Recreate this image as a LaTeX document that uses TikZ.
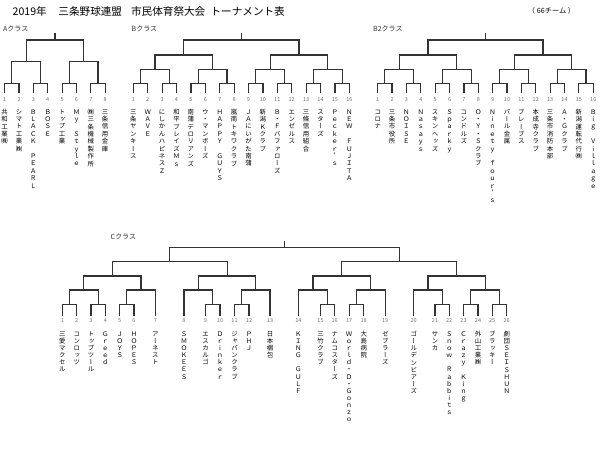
\documentclass[tikz,border=0pt]{standalone}
\usepackage{fontspec}
\setmainfont{Noto Sans CJK JP}
\newfontfamily\tatefont[RawFeature=+vert]{Noto Sans CJK JP}
\usetikzlibrary{calc}
\newlength\tatepitch
\setlength\tatepitch{7.4pt}
\makeatletter
\newcommand\tate[1]{\vbox{\tatefont\fontsize{6.4}{7.4}\selectfont\baselineskip=\tatepitch\lineskiplimit=-20pt\lineskip=0pt\relax
  \@tfor\tt@c:=#1\do{\hbox to 8pt{\hss\vrule height 5.2pt depth 1.4pt width 0pt\tt@c\hss}}}}
\makeatother
% leaf: id, x, number, name, leaf y, number y, name top y
\newcommand\leaf[7]{%
  \coordinate (#1) at (#2,#5);
  \node[num] (#1n) at (#2,#6) {#3};
  \node[team] (#1t) at (#2,#7) {\tate{#4}};}
\newcommand\la[4]{\leaf{#1}{#2}{#3}{#4}{93.3}{100}{108.7}}
\newcommand\lc[4]{\leaf{#1}{#2}{#3}{#4}{316}{320.7}{331}}
% match: name, child a, child b, level y
\newcommand\mt[4]{%
  \path let \p1=(#2),\p2=(#3) in coordinate (#1) at ({0.5*\x1+0.5*\x2},{-#4pt});
  \draw[br] (#2) |- (#1) -| (#3);}
\tikzset{
  br/.style={draw=black!80, line width=1.2pt},
  num/.style={font=\fontsize{5.5}{6}\selectfont, text=black!55, inner sep=0pt},
  team/.style={anchor=north, inner sep=0pt},
  cls/.style={anchor=west, inner sep=0pt, font=\fontsize{7}{8}\selectfont, text=black!80},
}
\begin{document}
\begin{tikzpicture}[x=1pt,y=-1pt]
\fill[white] (0,0) rectangle (600,452);
\useasboundingbox (0,0) rectangle (600,452);
\node[anchor=west,inner sep=0pt,font=\fontsize{10.6}{12}\selectfont] (title) at (12.5,11)
  {2019年\hspace{1.1em}三条野球連盟\hspace{0.85em}市民体育祭大会\hspace{0.5em}トーナメント表};
\node[inner sep=0pt,font=\fontsize{7.2}{8}\selectfont] (count) at (551.5,11) {（\hspace{0.25em}66チーム\hspace{0.25em}）};
\node[cls] (lA) at (3,29.3) {Aクラス};
\node[cls] (lB) at (131.5,29.3) {Bクラス};
\node[cls] (lB2) at (373,29.3) {B2クラス};
\node[cls] (lC) at (110.5,236.7) {Cクラス};
% ---- A class
\la{A1}{4.70}{1}{共和工業㈱}
\la{A2}{19.05}{2}{シマト工業㈱}
\la{A3}{33.40}{3}{ＢＬＡＣＫ　ＰＥＡＲＬ}
\la{A4}{47.75}{4}{ＢＯＳＥ}
\la{A5}{62.10}{5}{トップ工業}
\la{A6}{76.45}{6}{Ｍｙ　Ｓｔｙｌｅ}
\la{A7}{90.80}{7}{㈱三条機械製作所}
\la{A8}{105.15}{8}{三条信用金庫}
\mt{a12}{A1}{A2}{83.3}
\mt{a34}{A3}{A4}{83.3}
\mt{a56}{A5}{A6}{83.3}
\mt{a78}{A7}{A8}{83.3}
\mt{a14}{a12}{a34}{61.7}
\mt{a58}{a56}{a78}{61.7}
\mt{aF}{a14}{a58}{40}
\path (aF) ++(0,-6.7) coordinate (aW);
\draw[br] (aF) -- (aW);
% ---- B class
\la{B1}{133.3}{1}{三条ヤンキース}
\la{B2}{147.7}{2}{ＷＡＶＥ}
\la{B3}{162.1}{3}{にしかんハピネスＺ}
\la{B4}{176.5}{4}{和平ブレイズＭｓ}
\la{B5}{190.9}{5}{南蒲デロリアンズ}
\la{B6}{205.3}{6}{ウ・マンボーズ}
\la{B7}{219.7}{7}{ＨＡＰＰＹ　ＧＵＹＳ}
\la{B8}{234.1}{8}{嵐南トキワクラブ}
\la{B9}{248.5}{9}{ＪＡにいがた南蒲}
\la{B10}{262.9}{10}{新潟Ｋクラブ}
\la{B11}{277.3}{11}{Ｂ・Ｆバファローズ}
\la{B12}{291.7}{12}{エンゼルス}
\la{B13}{306.1}{13}{三條信用組合}
\la{B14}{320.5}{14}{スターズ}
\la{B15}{334.9}{15}{Ｐｅｃｋｅｒ＇ｓ}
\la{B16}{349.3}{16}{ＮＥＷ　ＦＵＪＩＴＡ}
\mt{b12}{B1}{B2}{83.3}
\mt{b34}{B3}{B4}{83.3}
\mt{b56}{B5}{B6}{83.3}
\mt{b78}{B7}{B8}{83.3}
\mt{b910}{B9}{B10}{83.3}
\mt{b1112}{B11}{B12}{83.3}
\mt{b1314}{B13}{B14}{83.3}
\mt{b1516}{B15}{B16}{83.3}
\mt{b14}{b12}{b34}{69.3}
\mt{b58}{b56}{b78}{69.3}
\mt{b912}{b910}{b1112}{69.3}
\mt{b1316}{b1314}{b1516}{69.3}
\mt{b18}{b14}{b58}{55}
\mt{b916}{b912}{b1316}{55}
\mt{bF}{b18}{b916}{40}
\path (bF) ++(0,-6.7) coordinate (bW);
\draw[br] (bF) -- (bW);
% ---- B2 class
\la{D1}{377.70}{1}{コロナ}
\la{D2}{392.07}{2}{三条市役所}
\la{D3}{406.44}{3}{ＮＯＩＳＥ}
\la{D4}{420.81}{4}{Ｎａｓａｙｓ}
\la{D5}{435.18}{5}{スキンヘッズ}
\la{D6}{449.55}{6}{Ｓｐａｒｋｙ}
\la{D7}{463.92}{7}{コンドルズ}
\la{D8}{478.29}{8}{Ｏ・Ｙ・Ｓクラブ}
\la{D9}{492.66}{9}{Ｎｉｎｅｔｙ　ｆｏｕｒ＇ｓ}
\la{D10}{507.03}{10}{パール金属}
\la{D11}{521.40}{11}{ブレーブス}
\la{D12}{535.77}{12}{本成寺クラブ}
\la{D13}{550.14}{13}{三条市消防本部}
\la{D14}{564.51}{14}{Ａ・Ｇクラブ}
\la{D15}{578.88}{15}{新潟運転代行㈱}
\la{D16}{593.25}{16}{Ｂｉｇ　Ｖｉｌｌａｇｅ}
\mt{d12}{D1}{D2}{83.3}
\mt{d34}{D3}{D4}{83.3}
\mt{d56}{D5}{D6}{83.3}
\mt{d78}{D7}{D8}{83.3}
\mt{d910}{D9}{D10}{83.3}
\mt{d1112}{D11}{D12}{83.3}
\mt{d1314}{D13}{D14}{83.3}
\mt{d1516}{D15}{D16}{83.3}
\mt{d14}{d12}{d34}{69.3}
\mt{d58}{d56}{d78}{69.3}
\mt{d912}{d910}{d1112}{69.3}
\mt{d1316}{d1314}{d1516}{69.3}
\mt{d18}{d14}{d58}{55}
\mt{d916}{d912}{d1316}{55}
\mt{dF}{d18}{d916}{40}
\path (dF) ++(0,-6.7) coordinate (dW);
\draw[br] (dF) -- (dW);
% ---- C class
\setlength\tatepitch{7.1pt}
\lc{C1}{62.3}{1}{三愛マクセル}
\lc{C2}{76.7}{2}{コンロッツ}
\lc{C3}{91.0}{3}{トップツール}
\lc{C4}{105.3}{4}{Ｇｒｅｅｄ}
\lc{C5}{119.7}{5}{ＪＯＹＳ}
\lc{C6}{134.0}{6}{ＨＯＰＥＳ}
\lc{C7}{155.3}{7}{アーネスト}
\lc{C8}{184.0}{8}{ＳＭＯＫＥＥＳ}
\lc{C9}{205.5}{9}{エスカルゴ}
\lc{C10}{220.0}{10}{Ｄｒｉｎｋｅｒ}
\lc{C11}{234.5}{11}{ジャパンクラブ}
\lc{C12}{249.0}{12}{ＰＨＪ}
\lc{C13}{270.0}{13}{日本梱包}
\lc{C14}{298.3}{14}{ＫＩＮＧ　ＧＵＬＦ}
\lc{C15}{320.5}{15}{三竹クラブ}
\lc{C16}{334.7}{16}{ナムコスターズ}
\lc{C17}{349.1}{17}{Ｗｏｒｌｄ・Ｄ・Ｇｏｎｚｏ}
\lc{C18}{363.7}{18}{大島病院}
\lc{C19}{385.2}{19}{ゼブラーズ}
\lc{C20}{413.7}{20}{ゴールデンビアーズ}
\lc{C21}{435.0}{21}{サンカ}
\lc{C22}{449.2}{22}{Ｓｎｏｗ　Ｒａｂｂｉｔｓ}
\lc{C23}{463.5}{23}{Ｃｒａｚｙ　Ｋｉｎｇ}
\lc{C24}{478.0}{24}{外山工業㈱}
\lc{C25}{492.2}{25}{ブラッキー}
\lc{C26}{506.7}{26}{劇団ＳＥＩＳＨＵＮ}
\mt{c12}{C1}{C2}{304.3}
\mt{c34}{C3}{C4}{304.3}
\mt{c14}{c12}{c34}{290}
\mt{c56}{C5}{C6}{304.3}
\mt{c57}{c56}{C7}{290}
\mt{c17}{c14}{c57}{276}
\mt{c910}{C9}{C10}{304.3}
\mt{c810}{C8}{c910}{290}
\mt{c1112}{C11}{C12}{304.3}
\mt{c1113}{c1112}{C13}{290}
\mt{c813}{c810}{c1113}{276}
\mt{cL}{c17}{c813}{261.7}
\mt{c1516}{C15}{C16}{304.3}
\mt{c1416}{C14}{c1516}{290}
\mt{c1718}{C17}{C18}{304.3}
\mt{c1719}{c1718}{C19}{290}
\mt{c1419}{c1416}{c1719}{276}
\mt{c2122}{C21}{C22}{304.3}
\mt{c2022}{C20}{c2122}{290}
\mt{c2324}{C23}{C24}{304.3}
\mt{c2526}{C25}{C26}{304.3}
\mt{c2326}{c2324}{c2526}{290}
\mt{c2026}{c2022}{c2326}{276}
\mt{cR}{c1419}{c2026}{261.7}
\mt{cF}{cL}{cR}{247.3}
\path (cF) ++(0,-6.6) coordinate (cW);
\draw[br] (cF) -- (cW);
\end{tikzpicture}
\end{document}
